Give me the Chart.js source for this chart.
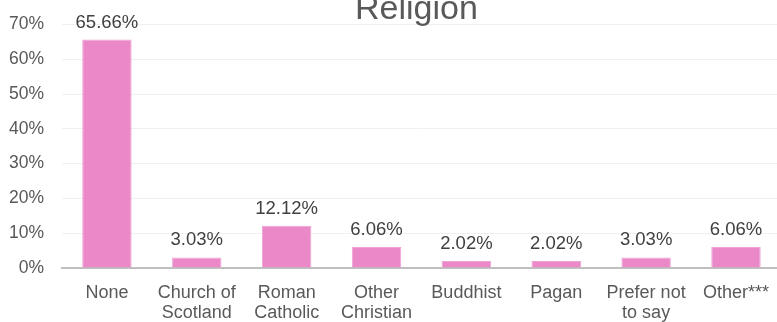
<!DOCTYPE html>
<html>
<head>
<meta charset="utf-8">
<script src="https://cdn.jsdelivr.net/npm/chart.js@4/dist/chart.umd.min.js"></script>
<style>
  html, body { margin: 0; padding: 0; background: #fff; overflow: hidden; }
  body { width: 777px; height: 322px; position: relative; }
  #wrap { position: absolute; left: 0; top: -4px; width: 784px; height: 326px; }
</style>
</head>
<body>
<div id="wrap"><canvas id="religionChart"></canvas></div>
<script>
// chart data
const chartTitle = "Religion";
const categories = [
    "None",
    ["Church of", "Scotland"],
    ["Roman", "Catholic"],
    ["Other", "Christian"],
    "Buddhist",
    "Pagan",
    ["Prefer not", "to say"],
    "Other***"
];
const percentages = [65.66, 3.03, 12.12, 6.06, 2.02, 2.02, 3.03, 6.06];
const yTicks = [0, 10, 20, 30, 40, 50, 60, 70];

const FONT = "'Liberation Sans', Arial, sans-serif";

// title, centred over the plot area and cropped at the top like the original
const titlePlugin = {
    id: "titlePlugin",
    afterDraw(chart) {
        const ctx = chart.ctx;
        const area = chart.chartArea;
        ctx.save();
        ctx.font = "34px " + FONT;
        ctx.fillStyle = "#595959";
        ctx.textAlign = "center";
        ctx.textBaseline = "alphabetic";
        ctx.fillText(chartTitle, (area.left + area.right) / 2 - 5, area.top - 6);
        ctx.restore();
    }
};

// draws the value above each bar
const barLabels = {
    id: "barLabels",
    afterDatasetsDraw(chart) {
        const ctx = chart.ctx;
        const meta = chart.getDatasetMeta(0);
        ctx.save();
        ctx.font = "18.5px " + FONT;
        ctx.fillStyle = "#404040";
        ctx.textAlign = "center";
        ctx.textBaseline = "alphabetic";
        meta.data.forEach((bar, i) => {
            ctx.fillText(percentages[i].toFixed(2) + "%", bar.x, bar.y - 12);
        });
        ctx.restore();
    }
};

const ctx = document.getElementById("religionChart").getContext("2d");
new Chart(ctx, {
    type: "bar",
    data: {
        labels: categories,
        datasets: [{
            label: chartTitle,
            data: percentages,
            backgroundColor: "rgb(234,136,200)",
            borderColor: "rgb(240,162,214)",
            borderWidth: 1,
            barPercentage: 0.55,
            categoryPercentage: 1.0
        }]
    },
    options: {
        responsive: true,
        maintainAspectRatio: false,
        animation: false,
        layout: { padding: { left: 0, right: 0, top: 14, bottom: 0 } },
        plugins: {
            legend: { display: false },
            tooltip: { enabled: false },
            title: { display: false }
        },
        scales: {
            x: {
                afterFit(scale) { scale.height = 54; },
                grid: { display: false, drawTicks: false },
                border: { color: "#bfbfbf", width: 2 },
                ticks: {
                    color: "#595959",
                    font: { family: FONT, size: 18, lineHeight: "20px" },
                    padding: 15,
                    maxRotation: 0,
                    autoSkip: false
                }
            },
            y: {
                min: 0,
                max: 70,
                afterFit(scale) { scale.width = 62; },
                afterBuildTicks(scale) { scale.ticks = yTicks.map(v => ({ value: v })); },
                grid: { color: "#f0f0f0", drawTicks: false },
                border: { display: false },
                ticks: {
                    color: "#595959",
                    font: { family: FONT, size: 17.5 },
                    padding: 18,
                    callback: v => v + "%"
                }
            }
        }
    },
    plugins: [barLabels, titlePlugin]
});
</script>
</body>
</html>
